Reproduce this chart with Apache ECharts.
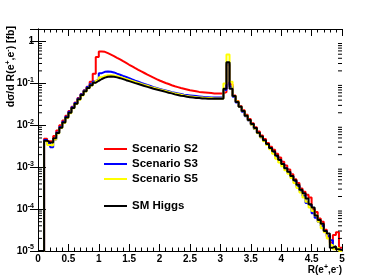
<!DOCTYPE html>
<html><head><meta charset="utf-8">
<script src="https://cdn.jsdelivr.net/npm/echarts@6/dist/echarts.min.js"></script>
<style>html,body{margin:0;padding:0;background:#fff}#c{width:380px;height:280px}</style>
</head><body><div id="c"></div>
<script>
const binEdges = [0,0.05,0.1,0.15,0.2,0.25,0.3,0.35,0.4,0.45,0.5,0.55,0.6,0.65,0.7,0.75,0.8,0.85,0.9,0.95,
1,1.05,1.1,1.15,1.2,1.25,1.3,1.35,1.4,1.45,1.5,1.55,1.6,1.65,1.7,1.75,1.8,1.85,1.9,1.95,
2,2.05,2.1,2.15,2.2,2.25,2.3,2.35,2.4,2.45,2.5,2.55,2.6,2.65,2.7,2.75,2.8,2.85,2.9,2.95,
3,3.05,3.1,3.15,3.2,3.25,3.3,3.35,3.4,3.45,3.5,3.55,3.6,3.65,3.7,3.75,3.8,3.85,3.9,3.95,
4,4.05,4.1,4.15,4.2,4.25,4.3,4.35,4.4,4.45,4.5,4.55,4.6,4.65,4.7,4.75,4.8,4.85,4.9,4.95,5];

const seriesNames = ['Scenario S2','Scenario S3','Scenario S5','SM Higgs'];

const s2 = [1e-5,1e-5,4.8e-3,4.2e-3,4.2e-3,5.6e-3,7.5e-3,1.0e-2,1.3e-2,1.7e-2,
2.2e-2,2.8e-2,3.5e-2,4.5e-2,5.6e-2,6.9e-2,8.4e-2,0.11,0.17,0.43,
0.58,0.57,0.53,0.49,0.45,0.41,0.375,0.34,0.31,0.28,
0.255,0.232,0.212,0.194,0.178,0.163,0.150,0.138,0.127,0.118,
0.110,0.103,0.097,0.091,0.086,0.082,0.078,0.075,0.072,0.069,
0.067,0.065,0.063,0.062,0.061,0.060,0.059,0.058,0.058,0.058,
0.058,0.062,0.28,0.095,0.052,0.038,0.029,0.023,0.018,0.0142,
0.0112,0.0090,0.0071,0.0057,0.0047,0.0038,0.0031,0.0026,0.0021,0.0017,
0.00135,0.0011,0.00088,0.00068,0.00052,0.00042,0.00031,0.00026,0.00022,0.00019,
0.0001,0.000085,0.00006,0.00005,0.000032,0.000022,0.000016,0.000024,0.000028,0.000012];

const s3 = [1e-5,1e-5,4.5e-3,3.8e-3,3.0e-3,4.6e-3,6.8e-3,9.2e-3,1.22e-2,1.6e-2,
2.1e-2,2.7e-2,3.4e-2,4.4e-2,5.5e-2,6.8e-2,8.2e-2,9.7e-2,0.112,0.125,
0.176,0.19,0.194,0.19,0.184,0.172,0.162,0.152,0.143,0.134,
0.125,0.117,0.110,0.103,0.097,0.092,0.087,0.082,0.078,0.074,
0.071,0.068,0.065,0.062,0.060,0.058,0.056,0.054,0.053,0.052,
0.051,0.050,0.049,0.048,0.047,0.047,0.046,0.046,0.046,0.046,
0.046,0.07,0.30,0.085,0.048,0.035,0.028,0.021,0.0165,0.013,
0.0103,0.0082,0.0066,0.0052,0.0043,0.0035,0.0028,0.0023,0.0018,0.00148,
0.0012,0.00094,0.00075,0.0006,0.00047,0.00035,0.00027,0.00021,0.00014,0.000125,
0.00008,0.000062,0.00005,0.00004,0.00003,0.000023,0.000018,0.000012,0.000011,0.0000105];

const s5 = [1e-5,1e-5,4.2e-3,3.4e-3,3.3e-3,4.6e-3,6.4e-3,8.6e-3,1.14e-2,1.5e-2,
1.95e-2,2.55e-2,3.25e-2,4.1e-2,5.2e-2,6.4e-2,7.7e-2,9.0e-2,0.104,0.118,
0.140,0.152,0.158,0.158,0.155,0.150,0.143,0.136,0.129,0.122,
0.115,0.109,0.103,0.097,0.092,0.088,0.083,0.079,0.076,0.072,
0.069,0.066,0.063,0.060,0.058,0.056,0.054,0.052,0.050,0.049,
0.048,0.047,0.046,0.046,0.045,0.045,0.045,0.044,0.044,0.044,
0.044,0.10,0.49,0.11,0.05,0.037,0.028,0.022,0.017,0.0133,
0.0104,0.0083,0.0065,0.0052,0.0042,0.0034,0.0027,0.0021,0.0016,0.0013,
0.00105,0.00085,0.0007,0.00055,0.00042,0.00032,0.00025,0.00019,0.00015,0.00011,
0.00009,0.00007,0.00005,0.000035,0.000028,0.00002,0.000014,0.000011,0.000012,0.00001];

const smHiggs = [1e-5,1e-5,4.3e-3,3.9e-3,3.9e-3,4.9e-3,6.6e-3,8.8e-3,1.17e-2,1.55e-2,
2.0e-2,2.6e-2,3.3e-2,4.2e-2,5.3e-2,6.5e-2,7.8e-2,9.1e-2,0.104,0.116,
0.128,0.138,0.145,0.147,0.145,0.140,0.134,0.127,0.120,0.114,
0.108,0.102,0.097,0.092,0.087,0.083,0.079,0.075,0.072,0.069,
0.066,0.063,0.060,0.058,0.055,0.053,0.051,0.050,0.048,0.047,
0.046,0.045,0.045,0.044,0.044,0.043,0.043,0.043,0.043,0.043,
0.043,0.075,0.32,0.075,0.050,0.036,0.028,0.022,0.017,0.0135,
0.0108,0.0086,0.0067,0.0054,0.0044,0.0036,0.0029,0.0024,0.0019,0.0015,
0.0012,0.00095,0.00078,0.00062,0.00049,0.00038,0.00029,0.00024,0.00018,0.00013,
0.00011,0.00007,0.000055,0.000045,0.00003,0.000026,0.000012,0.000013,0.000011,0.0000105];

const yMinorTicks = [];
[-5,-4,-3,-2,-1,0].forEach(function(d){ for (let m=2;m<=9;m++){ const v=m*Math.pow(10,d); if (v<2) yMinorTicks.push([0,v]); } });

const colors = ['#ff0000','#0000ff','#ffff00','#000000'];
const allVals = [s2,s3,s5,smHiggs];
function histData(vals){ return binEdges.map(function(x,i){ return [x, vals[Math.min(i, vals.length-1)]]; }); }

const FONT = '"Liberation Sans", Arial, sans-serif';
const chart = echarts.init(document.getElementById('c'), null, {renderer:'canvas'});

const series = seriesNames.map(function(n,k){
  return {name:n, type:'line', step:'end', showSymbol:false, symbol:'none', data:histData(allVals[k]),
    lineStyle:{color:colors[k], width:2}, itemStyle:{color:colors[k]}, clip:true, z:2+k, animation:false};
});
series.push({type:'custom', silent:true, data:yMinorTicks, encode:{x:0,y:1}, z:10,
  renderItem:function(params, api){
    const y = api.coord([0, api.value(1)])[1];
    const cs = params.coordSys;
    return {type:'group', children:[
      {type:'line', shape:{x1:cs.x, y1:y, x2:cs.x+4, y2:y}, style:{stroke:'#000', lineWidth:1}},
      {type:'line', shape:{x1:cs.x+cs.width-4, y1:y, x2:cs.x+cs.width, y2:y}, style:{stroke:'#000', lineWidth:1}}
    ]};
  }});

function yLab(v){
  const e = Math.round(Math.log10(v));
  if (Math.abs(Math.log10(v)-e) > 1e-6) return '';
  if (e === 0) return '{b|1}';
  return '{b|10}{s|' + e + '}';
}

const legendCommon = {orient:'vertical', left:99, icon:'rect', itemWidth:23, itemHeight:2, itemGap:3,
  textStyle:{fontFamily:FONT, fontWeight:'bold', fontSize:11.5, color:'#000', lineHeight:12}, selectedMode:false};

chart.setOption({
  animation:false,
  backgroundColor:'#fff',
  grid:{left:38, right:38, top:29, bottom:29, containLabel:false},
  legend:[
    Object.assign({}, legendCommon, {top:138, data:seriesNames.slice(0,3)}),
    Object.assign({}, legendCommon, {top:195, data:[seriesNames[3]]})
  ],
  xAxis:[
    {type:'value', min:0, max:5, interval:0.5, position:'bottom',
     axisLine:{lineStyle:{color:'#000', width:1}}, splitLine:{show:false},
     axisTick:{inside:true, length:7, lineStyle:{color:'#000'}},
     minorTick:{show:true, splitNumber:5, length:3.5, lineStyle:{color:'#000'}},
     axisLabel:{margin:3, fontFamily:FONT, fontWeight:'bold', fontSize:10, color:'#000',
       formatter:function(v){ return String(Math.round(v*10)/10); }}},
    {type:'value', min:0, max:5, interval:0.5, position:'top',
     axisLine:{lineStyle:{color:'#000', width:1}}, splitLine:{show:false},
     axisTick:{inside:true, length:7, lineStyle:{color:'#000'}},
     minorTick:{show:true, splitNumber:5, length:3.5, lineStyle:{color:'#000'}},
     axisLabel:{show:false}}
  ],
  yAxis:[
    {type:'log', logBase:10, min:1e-5, max:2, position:'left',
     axisLine:{show:true, lineStyle:{color:'#000', width:1}}, splitLine:{show:false},
     axisTick:{show:true, inside:true, length:8, lineStyle:{color:'#000'}},
     minorTick:{show:false},
     axisLabel:{margin:4, color:'#000', formatter:yLab,
       rich:{b:{fontFamily:FONT, fontWeight:'bold', fontSize:10, color:'#000'},
             s:{fontFamily:FONT, fontWeight:'bold', fontSize:7, color:'#000', padding:[0,0,7,0]}}}},
    {type:'log', logBase:10, min:1e-5, max:2, position:'right',
     axisLine:{show:true, lineStyle:{color:'#000', width:1}}, splitLine:{show:false},
     axisTick:{show:true, inside:true, length:8, lineStyle:{color:'#000'}},
     minorTick:{show:false}, axisLabel:{show:false}}
  ],
  graphic:[
    {type:'text', x:342, y:264, style:{text:'{a|R(e}{s|+}{a|,e}{s|-}{a|)}', align:'right', verticalAlign:'top',
      rich:{a:{fontFamily:FONT, fontWeight:'bold', fontSize:10, fill:'#000'}, s:{fontFamily:FONT, fontWeight:'bold', fontSize:7, fill:'#000', padding:[0,0,6,0]}}}},
    {type:'text', x:11, y:26, rotation:Math.PI/2, style:{text:'{a|d\u03c3/d R(e}{s|+}{a|,e}{s|-}{a|) [fb]}', align:'right', verticalAlign:'middle',
      rich:{a:{fontFamily:FONT, fontWeight:'bold', fontSize:10.5, fill:'#000'}, s:{fontFamily:FONT, fontWeight:'bold', fontSize:7, fill:'#000', padding:[0,0,6,0]}}}}
  ],
  series:series
});
</script></body></html>
